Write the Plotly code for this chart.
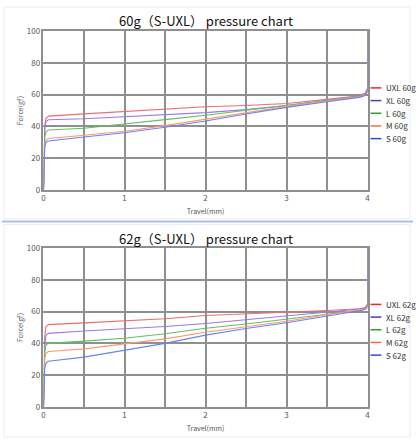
import plotly.graph_objects as go

# --- data ---
names = ["UXL", "XL", "L", "M", "S"]
line_colors = ["#ee6b72", "#9a7be0", "#62c062", "#ff9870", "#6684f2"]
legend_colors = ["#e02a33", "#5538b8", "#2ea02e", "#ff6e3a", "#2a48e8"]

travel = [0, 0.005, 0.015, 0.03, 0.06, 0.5, 1, 1.5, 2, 2.5, 3, 3.5, 3.9, 3.97, 4, 4]

force_60 = {
    "UXL": [0, 24, 40, 45, 46.5, 47.9, 49.3, 50.7, 52.4, 53.2, 54.4, 57.0, 59.3, 61.0, 64, 100],
    "XL": [0, 22, 38, 43, 44.2, 44.8, 46.1, 47.3, 48.7, 50.6, 53.2, 56.5, 59.0, 60.3, 63, 100],
    "L": [0, 19, 33, 36.8, 37.8, 38.9, 41.8, 44.3, 47.0, 50.0, 53.0, 56.2, 58.8, 60.0, 62, 100],
    "M": [0, 16, 28, 31.5, 32.4, 34.5, 37.0, 40.5, 44.4, 48.6, 52.6, 56.0, 58.6, 59.8, 62, 100],
    "S": [0, 15, 27, 30, 30.8, 33.4, 36.0, 39.5, 43.4, 47.8, 52.0, 55.5, 58.3, 59.5, 61.5, 100],
}
force_62 = {
    "UXL": [0, 26, 44, 50.5, 51.8, 52.9, 54.1, 55.5, 57.6, 58.6, 59.4, 60.7, 61.8, 62.5, 65, 100],
    "XL": [0, 23, 39, 45, 46.3, 47.8, 49.0, 50.6, 52.5, 54.9, 57.0, 59.4, 61.2, 62.0, 64, 100],
    "L": [0, 20, 34, 39, 40.0, 41.4, 43.2, 46.0, 49.5, 52.2, 55.1, 58.3, 61.0, 61.8, 64, 100],
    "M": [0, 17, 30, 33.8, 34.9, 36.5, 39.5, 42.8, 47.0, 50.6, 53.9, 58.0, 60.8, 61.6, 63.5, 100],
    "S": [0, 14, 24, 27.6, 28.7, 31.3, 35.5, 40.0, 45.2, 49.4, 53.0, 57.0, 60.5, 61.3, 63, 100],
}

x_ticks = [0, 1, 2, 3, 4]
y_ticks = [0, 20, 40, 60, 80, 100]

W, H = 416, 444
FONT = "Noto Sans CJK SC"
GRID = "#8f8f8f"


def px(x):
    return x / W


def py(y):
    return 1 - y / H


fig = go.Figure()

# (weight label, data, axis suffix, plot top px, plot bottom px, title y px, legend y px)
panels = [
    ("60g", force_60, "", 25.7, 188.7, 15, 84),
    ("62g", force_62, "2", 248.3, 411, 238, 306),
]

annotations = []
shapes = []

for weight, data, ax, top, bottom, title_y, leg_y in panels:
    for name, col in zip(names, line_colors):
        fig.add_trace(go.Scatter(
            x=travel, y=data[name], mode="lines", name=f"{name} {weight}",
            line=dict(color=col, width=1.1), showlegend=False,
            xaxis="x" + ax, yaxis="y" + ax,
        ))

    axis_style = dict(
        showline=True, mirror=True, linecolor=GRID, linewidth=1.5,
        showgrid=True, gridcolor=GRID, gridwidth=1.5,
        zeroline=False, ticks="", tickfont=dict(family=FONT, size=8, color="#555555"),
    )
    fig.update_layout({
        "xaxis" + ax: dict(
            axis_style, domain=[px(42), px(370)], range=[0, 4], tickvals=x_ticks,
            anchor="y" + ax,
            minor=dict(dtick=0.5, showgrid=True, gridcolor=GRID, gridwidth=1.5),
            title=dict(text="Travel(mm)", font=dict(family=FONT, size=7, color="#555555"),
                       standoff=7),
        ),
        "yaxis" + ax: dict(
            axis_style, domain=[py(bottom), py(top)], range=[0, 100], tickvals=y_ticks,
            anchor="x" + ax,
            title=dict(text="Force(gf)", font=dict(family=FONT, size=7, color="#555555"),
                       standoff=2),
        ),
    })

    annotations.append(dict(
        text=f"{weight}（S-UXL） pressure chart", x=px(206), y=py(title_y),
        xref="paper", yref="paper", showarrow=False, xanchor="center", yanchor="middle",
        font=dict(family=FONT, size=13, color="#111111"),
    ))

    # hand-built legend, tight like the original
    for i, (name, col) in enumerate(zip(names, legend_colors)):
        ly = leg_y + 13 * i
        shapes.append(dict(type="line", xref="paper", yref="paper",
                           x0=px(373), x1=px(384), y0=py(ly), y1=py(ly),
                           line=dict(color=col, width=1.5)))
        annotations.append(dict(
            text=f"{name} {weight}", x=px(387), y=py(ly), xref="paper", yref="paper",
            showarrow=False, xanchor="left", yanchor="middle",
            font=dict(family=FONT, size=8, color="#333333"),
        ))

# blue divider between the two charts
shapes.append(dict(type="line", xref="paper", yref="paper", x0=0, x1=1,
                   y0=py(221), y1=py(221), line=dict(color="#a9bfe9", width=2)))
# faint panel frames
for y0, y1 in [(1, 218), (224, 442)]:
    shapes.append(dict(type="rect", xref="paper", yref="paper",
                       x0=px(2), x1=px(413), y0=py(y1), y1=py(y0),
                       line=dict(color="#ececec", width=1)))

fig.update_layout(
    width=W, height=H, margin=dict(l=0, r=0, t=0, b=0),
    paper_bgcolor="white", plot_bgcolor="white",
    annotations=annotations, shapes=shapes,
)

# page body has a default 8px margin; drop it so the chart fills the window
fig.write_html("out.html", config={"displayModeBar": False},
               post_script="document.body.style.margin='0';")
